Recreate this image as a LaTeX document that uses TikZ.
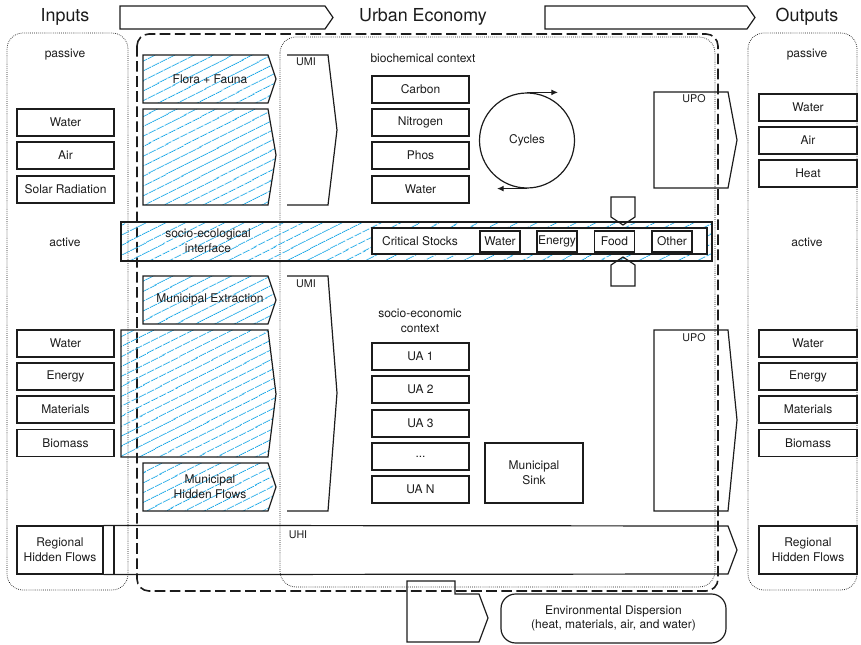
\documentclass[tikz,border=0pt]{standalone}
\usepackage{fontspec}
\setmainfont{TeX Gyre Heros}
\usetikzlibrary{patterns.meta,arrows.meta}
\definecolor{ink}{HTML}{1C1C1C}
\definecolor{hatchblue}{HTML}{1AA7E6}
\begin{document}
\begin{tikzpicture}[x=0.75pt,y=-0.75pt,
  every node/.style={font=\fontsize{9}{11}\selectfont, text=ink, align=center},
  head/.style={font=\fontsize{13.4}{15}\selectfont},
  tag/.style={font=\fontsize{8}{9}\selectfont},
  box/.style={draw=ink, line width=0.9pt, inner sep=0pt},
  listbox/.style={box, minimum width=72.75pt, minimum height=20.25pt},
  outbox/.style={box, minimum width=73.5pt, minimum height=20.25pt},
  stockbox/.style={box, minimum width=30pt, minimum height=15.75pt},
  flow/.style={draw=ink, line width=0.9pt},
  hatched/.style={draw=ink, line width=0.9pt,
    pattern={Lines[angle=27,distance=6.4pt,line width=0.7pt]}, pattern color=hatchblue},
  frame/.style={draw=ink, line width=0.55pt, dash pattern=on 0.55pt off 0.9pt, rounded corners=12pt},
  ecoframe/.style={draw=ink, line width=1.2pt, dash pattern=on 8pt off 3.3pt, rounded corners=9pt},
  cyclearrow/.style={draw=ink, line width=0.9pt, -{Latex[length=5pt,width=4.5pt]}}
]
\useasboundingbox (0,0) rectangle (861,645);

% headings and header arrows
\node[head] (hIn) at (65,17) {Inputs};
\node[head] (hUE) at (423,17) {Urban Economy};
\node[head] (hOut) at (807,17) {Outputs};
\draw[flow] (120,6) -- (325,6) -- (333,17.5) -- (325,29) -- (120,29) -- cycle;
\draw[flow] (545,6) -- (747,6) -- (755,17.5) -- (747,29) -- (545,29) -- cycle;

% frames
\draw[frame] (7,33) rectangle (128,590);
\draw[ecoframe] (137,34) rectangle (718,591);
\draw[frame] (280,37) rectangle (715,587);
\draw[frame] (748,33) rectangle (857,590);

% inputs
\node (inPassive) at (65,55) {passive};
\node (inActive) at (65,242) {active};
\node[listbox] (inWater) at (65.5,122.5) {Water};
\node[listbox] (inAir) at (65.5,155.5) {Air};
\node[listbox] (inSolar) at (65.5,189.5) {Solar Radiation};
\node[listbox] (inWater2) at (65.5,343.5) {Water};
\node[listbox] (inEnergy) at (65.5,376.5) {Energy};
\node[listbox] (inMaterials) at (65.5,409.5) {Materials};
\node[listbox] (inBiomass) at (65.5,443) {Biomass};

% outputs
\node (outPassive) at (807,55) {passive};
\node (outActive) at (807,242) {active};
\node[outbox] (outWater) at (808,107.5) {Water};
\node[outbox] (outAir) at (808,140.5) {Air};
\node[outbox] (outHeat) at (808,173.5) {Heat};
\node[outbox] (outWater2) at (808,343.5) {Water};
\node[outbox] (outEnergy) at (808,376.5) {Energy};
\node[outbox] (outMaterials) at (808,409.5) {Materials};
\node[outbox] (outBiomass) at (808,443) {Biomass};
\node[box, minimum width=73.5pt, minimum height=36pt] (outRegional) at (808,550) {Regional\\Hidden Flows};

% hidden flows along the bottom
\node[box, minimum width=64.5pt, minimum height=36pt] (inRegional) at (60,550) {Regional\\Hidden Flows};
\draw[flow] (114,526) -- (114,574);
\draw[flow] (inRegional.north east) -- (728,526) -- (737,550) -- (728,574) -- (inRegional.south east);
\node[tag] (uhi) at (298,535) {UHI};

% hatched extraction flows
\draw[hatched] (143,55) -- (268,55) -- (276,79) -- (268,103) -- (143,103) -- cycle;
\node (flora) at (210,79) {Flora + Fauna};
\draw[hatched] (143,109) -- (268,109) -- (276,155) -- (268,205) -- (143,205) -- cycle;
\draw[hatched] (143,276) -- (268,276) -- (276,300) -- (268,324) -- (143,324) -- cycle;
\node (munExt) at (210,299) {Municipal Extraction};
\draw[hatched] (121,330) -- (268,330) -- (276,394) -- (268,457) -- (121,457) -- cycle;
\draw[hatched] (143,463) -- (268,463) -- (276,487) -- (268,511) -- (143,511) -- cycle;
\node (munHidden) at (210,487) {Municipal\\Hidden Flows};

% socio-ecological interface band
\draw[hatched] (121,222) rectangle (712,261);
\node (interface) at (208,241) {socio-ecological\\interface};
\node[box, fill=white, minimum width=251.25pt, minimum height=19.5pt] (crit) at (539.5,241) {};
\node (critLabel) at (420,241.5) {Critical Stocks};
\node[stockbox] (csWater) at (500,241.5) {Water};
\node[stockbox] (csEnergy) at (557,241.5) {Energy};
\node[stockbox] (csFood) at (614.5,241.5) {Food};
\node[stockbox] (csOther) at (672,241.5) {Other};
\draw[flow] (611,197) -- (635,197) -- (635,217) -- (623,225) -- (611,217) -- cycle;
\draw[flow] (623,257) -- (635,265) -- (635,286) -- (611,286) -- (611,265) -- cycle;

% urban material inputs
\draw[flow] (287,55) -- (328,55) -- (337,130) -- (328,205) -- (287,205);
\node[tag] (umiTop) at (306,62) {UMI};
\draw[flow] (287,276) -- (328,276) -- (337,393) -- (328,511) -- (287,511);
\node[tag] (umiBottom) at (306,284) {UMI};

% urban processed outputs
\draw[flow] (654,92) -- (728,92) -- (737,140) -- (728,188) -- (654,188) -- cycle;
\node[tag] (upoTop) at (694,99) {UPO};
\draw[flow] (654,330) -- (728,330) -- (737,420) -- (728,511) -- (654,511) -- cycle;
\node[tag] (upoBottom) at (694,338) {UPO};

% biochemical context
\node (bioLabel) at (423,58) {biochemical context};
\node[listbox] (carbon) at (420.5,89.5) {Carbon};
\node[listbox] (nitrogen) at (420.5,122.5) {Nitrogen};
\node[listbox] (phos) at (420.5,155.5) {Phos};
\node[listbox] (bioWater) at (420.5,189.5) {Water};
\node[draw=ink, line width=0.9pt, circle, inner sep=0pt, minimum size=71.25pt] (cyc) at (527,140.5) {Cycles};
\draw[cyclearrow] (cyc.north) -- ++(31,0);
\draw[cyclearrow] (cyc.south) -- ++(-30,0);

% socio-economic context
\node (socLabel) at (420,321) {socio-economic\\context};
\node[listbox] (ua1) at (420.5,356.5) {UA 1};
\node[listbox] (ua2) at (420.5,389.5) {UA 2};
\node[listbox] (ua3) at (420.5,423.5) {UA 3};
\node[listbox] (uaDots) at (420.5,456.5) {...};
\node[listbox] (uaN) at (420.5,489.5) {UA N};
\node[box, minimum width=73.5pt, minimum height=45pt] (sink) at (534,473) {Municipal\\Sink};

% dispersion to the environment
\draw[flow] (407,581) -- (455,581) -- (455,594) -- (479,594) -- (488,618) -- (479,642) -- (407,642) -- cycle;
\node[box, rounded corners=11pt, minimum width=168.75pt, minimum height=36.75pt] (env) at (613.5,618.5) {Environmental Dispersion\\(heat, materials, air, and water)};
\end{tikzpicture}
\end{document}
